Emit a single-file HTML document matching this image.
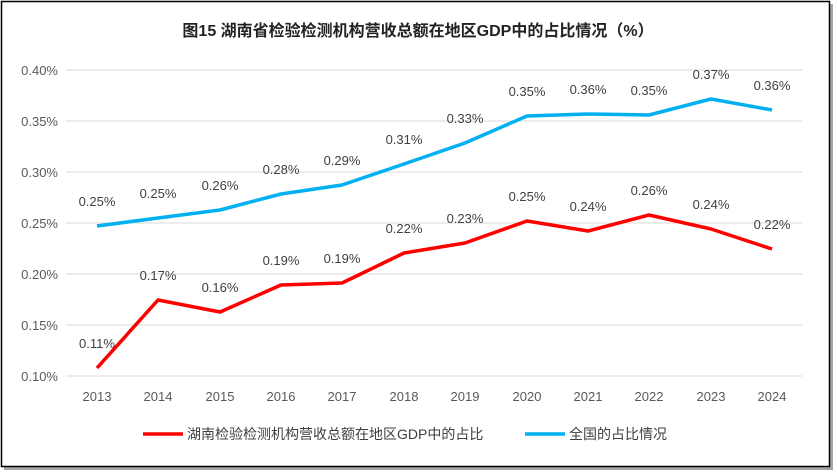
<!DOCTYPE html>
<html><head><meta charset="utf-8"><style>
body{margin:0;background:#fff;}
svg{display:block;font-family:"Liberation Sans","Noto Sans CJK SC",sans-serif;}
</style></head><body>
<svg width="837" height="474" viewBox="0 0 837 474">
<rect x="0" y="0" width="837" height="474" fill="#fff"/>
<rect x="4" y="4" width="829" height="466" fill="#000" opacity="0.35"/>
<rect x="1.5" y="1.5" width="828" height="465" fill="#fff" stroke="#000" stroke-width="1.5"/>
<text x="418" y="36" text-anchor="middle" font-size="16" font-weight="bold" fill="#222">图15 湖南省检验检测机构营收总额在地区GDP中的占比情况（%）</text>
<g stroke="#d9d9d9" stroke-width="1">
<line x1="66" x2="802" y1="70" y2="70"/><line x1="66" x2="802" y1="121" y2="121"/>
<line x1="66" x2="802" y1="172" y2="172"/><line x1="66" x2="802" y1="223" y2="223"/>
<line x1="66" x2="802" y1="274" y2="274"/><line x1="66" x2="802" y1="325" y2="325"/>
<line x1="66" x2="802" y1="376" y2="376"/>
</g>
<g font-size="13" fill="#595959" text-anchor="end">
<text x="58" y="75">0.40%</text><text x="58" y="126">0.35%</text><text x="58" y="177">0.30%</text>
<text x="58" y="228">0.25%</text><text x="58" y="279">0.20%</text><text x="58" y="330">0.15%</text><text x="58" y="381">0.10%</text>
</g>
<g font-size="13" fill="#595959" text-anchor="middle">
<text x="97" y="401">2013</text><text x="158" y="401">2014</text><text x="220" y="401">2015</text><text x="281" y="401">2016</text>
<text x="342" y="401">2017</text><text x="404" y="401">2018</text><text x="465" y="401">2019</text><text x="527" y="401">2020</text>
<text x="588" y="401">2021</text><text x="649" y="401">2022</text><text x="711" y="401">2023</text><text x="772" y="401">2024</text>
</g>
<polyline fill="none" stroke="#00b0f0" stroke-width="3.5" stroke-linejoin="round" points="97,226 158,218 220,210 281,194 342,185 404,164 465,143 527,116 588,114 649,115 711,99 772,110"/>
<polyline fill="none" stroke="#ff0000" stroke-width="3.5" stroke-linejoin="round" points="97,368 158,300 220,312 281,285 342,283 404,253 465,243 527,221 588,231 649,215 711,229 772,249"/>
<g font-size="13" fill="#404040" text-anchor="middle">
<text x="97" y="206">0.25%</text><text x="158" y="198">0.25%</text><text x="220" y="190">0.26%</text><text x="281" y="174">0.28%</text>
<text x="342" y="165">0.29%</text><text x="404" y="144">0.31%</text><text x="465" y="123">0.33%</text><text x="527" y="96">0.35%</text>
<text x="588" y="94">0.36%</text><text x="649" y="95">0.35%</text><text x="711" y="79">0.37%</text><text x="772" y="90">0.36%</text>
<text x="97" y="348">0.11%</text><text x="158" y="280">0.17%</text><text x="220" y="292">0.16%</text><text x="281" y="265">0.19%</text>
<text x="342" y="263">0.19%</text><text x="404" y="233">0.22%</text><text x="465" y="223">0.23%</text><text x="527" y="201">0.25%</text>
<text x="588" y="211">0.24%</text><text x="649" y="195">0.26%</text><text x="711" y="209">0.24%</text><text x="772" y="229">0.22%</text>
</g>
<line x1="143" x2="183" y1="434" y2="434" stroke="#ff0000" stroke-width="3.5"/>
<text x="187" y="439" font-size="14" fill="#404040">湖南检验检测机构营收总额在地区GDP中的占比</text>
<line x1="525" x2="565" y1="434" y2="434" stroke="#00b0f0" stroke-width="3.5"/>
<text x="569" y="439" font-size="14" fill="#404040">全国的占比情况</text>
</svg>
</body></html>
